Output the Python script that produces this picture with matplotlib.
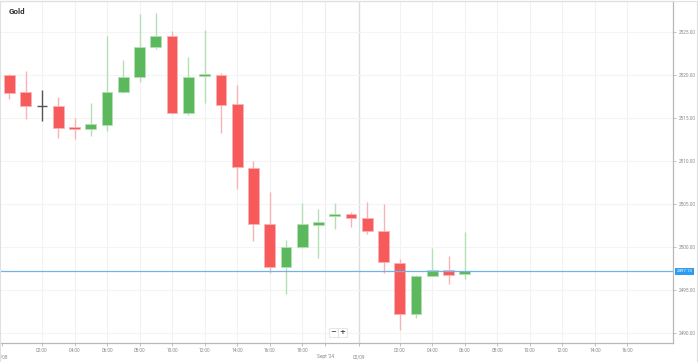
import matplotlib
matplotlib.use("Agg")
import matplotlib.pyplot as plt
from matplotlib.patches import Rectangle
import matplotlib.transforms as mtransforms

# ---- data (hourly candles) ----
opens  = [2519.98, 2517.97, 2516.41, 2516.37, 2513.85, 2513.70, 2514.16, 2518.03, 2519.71, 2523.27,
          2524.55, 2515.52, 2519.83, 2519.98, 2516.57, 2509.13, 2502.62, 2497.69, 2499.94, 2502.57,
          2503.58, 2503.78, 2503.37, 2501.80, 2498.15, 2492.19, 2496.60, 2497.30, 2496.80]
highs  = [2520.05, 2520.44, 2518.23, 2517.38, 2515.01, 2516.69, 2524.51, 2521.72, 2527.07, 2527.22,
          2525.13, 2522.03, 2525.21, 2520.24, 2518.81, 2509.98, 2506.41, 2500.79, 2505.06, 2504.40,
          2505.06, 2504.01, 2505.24, 2504.94, 2498.58, 2496.70, 2499.83, 2498.93, 2501.76]
lows   = [2517.15, 2514.83, 2514.63, 2512.69, 2512.53, 2512.88, 2513.50, 2517.92, 2519.20, 2522.97,
          2515.45, 2515.33, 2516.69, 2513.27, 2506.72, 2500.67, 2496.92, 2494.51, 2499.85, 2498.66,
          2502.07, 2502.34, 2501.45, 2496.99, 2490.33, 2491.69, 2496.55, 2495.64, 2496.22]
closes = [2517.85, 2516.41, 2516.41, 2513.85, 2513.73, 2514.24, 2518.03, 2519.69, 2523.27, 2524.55,
          2515.52, 2519.78, 2520.09, 2516.49, 2509.31, 2502.65, 2497.69, 2500.01, 2502.62, 2502.85,
          2503.78, 2503.31, 2501.80, 2498.27, 2492.19, 2496.60, 2497.30, 2496.72, 2497.13]
last_price = 2497.13

time_tick_pos = [2, 4, 6, 8, 10, 12, 14, 16, 18, 24, 26, 28, 30, 32, 34, 36, 38]
time_tick_labels = ["02:00", "04:00", "06:00", "08:00", "10:00", "12:00", "14:00", "16:00", "18:00",
                    "02:00", "04:00", "06:00", "08:00", "10:00", "12:00", "14:00", "16:00"]
date_tick_pos = [-0.46, 19.42, 21.49]
date_tick_labels = ["30/08", "Sept '24", "02/09"]
price_ticks = [2490, 2495, 2500, 2505, 2510, 2515, 2520, 2525]

# ---- style ----
RED, RED_W = "#f65a5a", "#f9b3b3"
GREEN, GREEN_W = "#5cb85c", "#b5dfb5"
GREY = "#555555"

W, H = 698, 362
fig = plt.figure(figsize=(W / 100, H / 100), dpi=100)
fig.patch.set_facecolor("white")
ax = fig.add_axes([0 / W, (H - 343) / H, 673 / W, (343 - 1) / H])
ax.set_facecolor("white")

ax.set_xlim(-0.584, 40.8)
ax.set_ylim(2488.81, 2528.58)

# grid
for p in time_tick_pos:
    ax.axvline(p, color="#f2f2f2", lw=0.8, zorder=0)
ax.axvline(date_tick_pos[1], color="#eeeeee", lw=0.8, zorder=0)
ax.axvline(date_tick_pos[2], color="#dcdcdc", lw=1.0, zorder=0)
for p in price_ticks:
    ax.axhline(p, color="#f4f4f4", lw=0.8, zorder=0)

# candles
bw = 0.66
for i, (o, h, l, c) in enumerate(zip(opens, highs, lows, closes)):
    if abs(c - o) < 0.005:
        col, wcol = GREY, GREY
    elif c > o:
        col, wcol = GREEN, GREEN_W
    else:
        col, wcol = RED, RED_W
    ax.vlines(i, l, h, color=wcol, lw=1.0, zorder=2)
    bottom = min(o, c)
    height = max(abs(c - o), 0.18)
    if col == GREY:
        ax.hlines(o, i - bw / 2, i + bw / 2, color=GREY, lw=1.0, zorder=3)
    else:
        ax.add_patch(Rectangle((i - bw / 2, bottom), bw, height, facecolor=col,
                               edgecolor=wcol, lw=0.6, zorder=3))

# last price line
ax.axhline(last_price, color="#6fb3ea", lw=0.9, zorder=4)
trans = mtransforms.blended_transform_factory(ax.transAxes, ax.transData)
ax.text(1.005, last_price, f"{last_price:.2f}", transform=trans, ha="left", va="center",
        fontsize=3.2, color="white", family="Roboto",
        bbox=dict(boxstyle="square,pad=0.35", fc="#2d9bf0", ec="none"), clip_on=False, zorder=5)

# axes / ticks
ax.yaxis.tick_right()
ax.set_yticks(price_ticks)
ax.set_yticklabels([f"{p:.2f}" for p in price_ticks])
ax.tick_params(axis="y", which="major", length=2.5, width=0.5, color="#aaaaaa",
               labelsize=3.4, labelcolor="#888888", pad=1.5)
ax.set_xticks(time_tick_pos)
ax.set_xticklabels(time_tick_labels)
ax.set_xticks(date_tick_pos, minor=True)
ax.set_xticklabels(date_tick_labels, minor=True)
ax.tick_params(axis="x", which="major", length=2.5, width=0.5, color="#aaaaaa",
               labelsize=3.4, labelcolor="#888888", pad=1.0)
ax.tick_params(axis="x", which="minor", length=2.5, width=0.5, color="#aaaaaa",
               labelsize=3.4, labelcolor="#888888", pad=5.5)
for lab in ax.get_xticklabels(which="both") + ax.get_yticklabels():
    lab.set_family("Roboto")

ax.spines["left"].set_visible(False)
ax.spines["top"].set_color("#e6e6e6")
ax.spines["right"].set_color("#b8b8b8")
ax.spines["bottom"].set_color("#b8b8b8")
for s in ax.spines.values():
    s.set_linewidth(0.9)

# outer frame
fig.add_artist(Rectangle((0, 0.5 / H), (W - 1.5) / W, (H - 1) / H, transform=fig.transFigure,
                         fill=False, edgecolor="#e0e0e0", lw=0.8))

# title
fig.text(9 / W, 1 - 11 / H, "Gold", fontsize=5.8, fontweight="bold", color="#333333",
         ha="left", va="center", family="Roboto")

# zoom buttons
for cx, sym in [(333.5, "\u2212"), (342.5, "+")]:
    fig.add_artist(Rectangle(((cx - 4.2) / W, 1 - 337 / H), 8.4 / W, 9 / H,
                             transform=fig.transFigure, facecolor="white",
                             edgecolor="#dddddd", lw=0.5))
    fig.text(cx / W, 1 - 332.5 / H, sym, fontsize=5, fontweight="bold", color="#444444",
             ha="center", va="center")

fig.savefig("out.png", dpi=100)
